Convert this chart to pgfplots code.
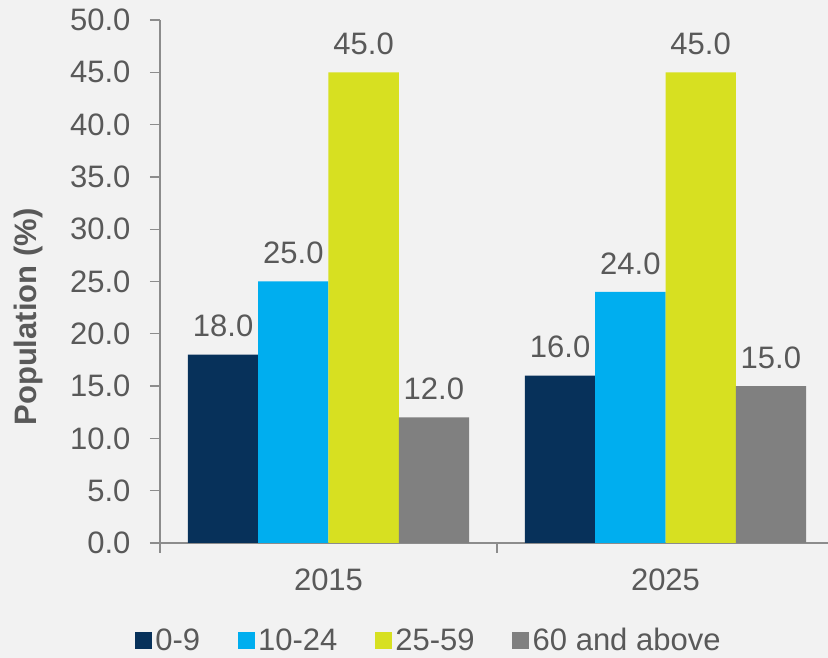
\documentclass[border=0pt]{standalone}
\usepackage{fontspec}
\setmainfont{Liberation Sans}
\usepackage{pgfplots}
\pgfplotsset{compat=1.18}
\definecolor{bg}{HTML}{F2F2F2}
\definecolor{txt}{HTML}{595959}
\definecolor{axl}{HTML}{8C8C8C}
\definecolor{cA}{HTML}{07315A}
\definecolor{cB}{HTML}{00AEEF}
\definecolor{cC}{HTML}{D7E021}
\definecolor{cD}{HTML}{808080}
\begin{document}
\begin{tikzpicture}
\path[use as bounding box, fill=bg] (-160pt,-115pt) rectangle (668pt,543pt);
\begin{axis}[
  at={(0pt,0pt)}, anchor=south west,
  scale only axis, width=668pt, height=523pt,
  font=\fontsize{31}{37}\selectfont,
  /pgf/number format/assume math mode=true,
  xmin=0, xmax=1.9822, ymin=0, ymax=50,
  axis lines*=left,
  axis line style={draw=axl, line width=1.3pt},
  tick style={draw=axl, line width=1.3pt},
  tick align=outside, major tick length=10pt,
  ytick={0,5,...,50},
  yticklabel style={text=txt, xshift=-16pt, /pgf/number format/.cd, fixed, fixed zerofill, precision=1},
  xtick={0,1}, xticklabels={},
  extra x ticks={0.5,1.5}, extra x tick labels={2015,2025},
  extra x tick style={major tick length=0pt, xticklabel style={text=txt, yshift=-22pt}},
  ylabel={\bfseries Population (\%)},
  every axis y label/.style={at={(axis description cs:-0.1976,0.432)}, rotate=90, anchor=center, text=txt},
  ybar=0pt, bar width=0.2085,
  nodes near coords,
  every node near coord/.append style={text=txt, yshift=14pt, /pgf/number format/.cd, fixed, fixed zerofill, precision=1},
  legend columns=4,
  legend style={at={(0.4034,-0.186)}, anchor=center, draw=none, fill=none, text=txt,
    /tikz/every even column/.append style={column sep=34pt},
    nodes={inner sep=3.5pt}},
  legend image code/.code={\fill[#1] (0pt,-8.5pt) rectangle (17pt,8.5pt);},
]
\addplot[fill=cA, draw=none] coordinates {(0.5,18) (1.5,16)};
\addplot[fill=cB, draw=none] coordinates {(0.5,25) (1.5,24)};
\addplot[fill=cC, draw=none] coordinates {(0.5,45) (1.5,45)};
\addplot[fill=cD, draw=none] coordinates {(0.5,12) (1.5,15)};
\legend{0-9,10-24,25-59,60 and above}
\end{axis}
\end{tikzpicture}
\end{document}
